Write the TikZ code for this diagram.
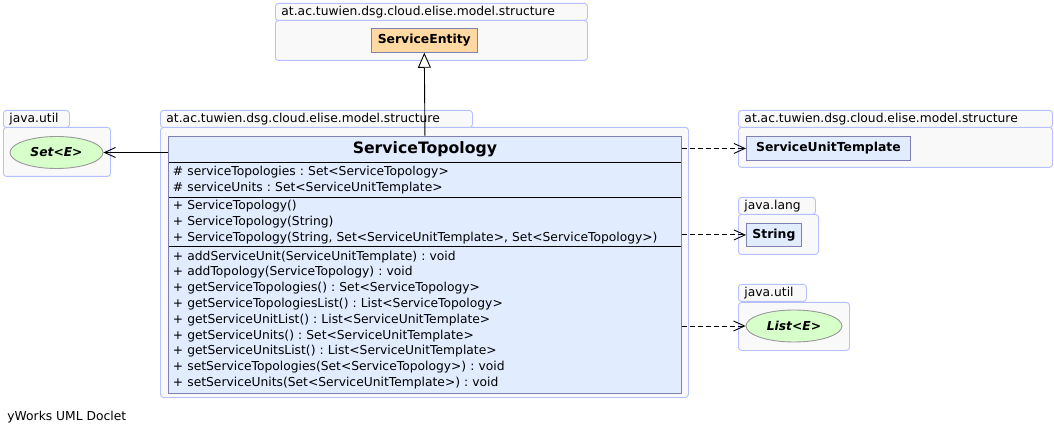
\documentclass[tikz,border=0pt]{standalone}
\usepackage{fontspec}
\setmainfont{DejaVu Sans}
\usetikzlibrary{shapes.geometric,arrows.meta,positioning}
\frenchspacing
\definecolor{pkb}{HTML}{B4C0FF}
\definecolor{pkf}{HTML}{F9F9F9}
\definecolor{clb}{HTML}{8080B4}
\definecolor{clf}{HTML}{E1ECFF}
\definecolor{orf}{HTML}{FFD9A1}
\definecolor{grf}{HTML}{D6FFC9}
\colorlet{elb}{black!40}
\tikzset{
    pkgbody/.style={draw=pkb,fill=pkf,rounded corners=3pt,anchor=north west,inner sep=0pt},
    pkgtab/.style={draw=pkb,fill=pkf,rounded corners=3pt,anchor=north west,inner xsep=6pt,inner ysep=0pt,
        minimum height=17pt,align=left,font=\fontsize{12.3}{14}\selectfont},
    clsbox/.style={draw=clb,fill=clf,inner sep=0pt,font=\fontsize{12.4}{14}\bfseries\selectfont},
    membox/.style={fill=clf,inner xsep=4.5pt,inner ysep=0pt,text width=504pt,align=left,
        font=\fontsize{12.3}{15.8}\selectfont},
    ifcel/.style={ellipse,draw=elb,fill=grf,inner sep=0pt,minimum height=32pt,
        font=\fontsize{12.3}{14}\bfseries\itshape\selectfont},
    assoc/.style={-{Straight Barb[length=11pt,width=10pt]}},
    dep/.style={dash pattern=on 5pt off 3pt,-{Straight Barb[length=11pt,width=10pt]}},
    gen/.style={-{Triangle[open,length=15pt,width=13pt,fill=white]}}
}

\begin{document}
\begin{tikzpicture}[x=1pt,y=-1pt,line width=0.9pt]
    \useasboundingbox (0,0) rectangle (1054,435);
    % packages
    \node [pkgbody,minimum width=312pt,minimum height=40pt] (pkgtopb) at (275,20) {};
    \node [pkgtab,text width=300pt] (pkgtopt) at (275,3) {at.ac.tuwien.dsg.cloud.elise.model.structure};
    \node [pkgbody,minimum width=107pt,minimum height=49pt] (pkgsetb) at (3,127) {};
    \node [pkgtab,text width=54pt] (pkgsett) at (3,110) {java.util};
    \node [pkgbody,minimum width=528pt,minimum height=270pt] (pkgmidb) at (160,127) {};
    \node [pkgtab,text width=300pt] (pkgmidt) at (160,110) {at.ac.tuwien.dsg.cloud.elise.model.structure};
    \node [pkgbody,minimum width=314pt,minimum height=40pt] (pkgsutb) at (738,127) {};
    \node [pkgtab,text width=302pt] (pkgsutt) at (738,110) {at.ac.tuwien.dsg.cloud.elise.model.structure};
    \node [pkgbody,minimum width=80pt,minimum height=40pt] (pkgstrb) at (738,214) {};
    \node [pkgtab,text width=65pt] (pkgstrt) at (738,197) {java.lang};
    \node [pkgbody,minimum width=111pt,minimum height=48pt] (pkglstb) at (738,302) {};
    \node [pkgtab,text width=56pt] (pkglstt) at (738,284) {java.util};
    % types
    \node [clsbox,fill=orf,minimum width=106pt,minimum height=24pt] (entity) at (424.3,40.3) {ServiceEntity};
    \node [clsbox,anchor=north west,minimum width=164pt,minimum height=24pt] (sut) at (746,136) {ServiceUnitTemplate};
    \node [clsbox,anchor=north west,minimum width=55pt,minimum height=23pt] (string) at (746,223) {String};
    \node [ifcel,minimum width=93pt] (setel) at (56.5,152.5) {Set<E>};
    \node [ifcel,minimum width=96pt] (listel) at (794,326) {List<E>};
    % class
    \node [clsbox,draw=none,anchor=north west,minimum width=513pt,minimum height=25.5pt,
        font=\fontsize{15.7}{18}\bfseries\selectfont] (sttitle) at (168,136) {ServiceTopology};
    \node [membox,below=0pt of sttitle,minimum height=33.8pt] (stfields) {%
        \# serviceTopologies : Set<ServiceTopology>\\
        \# serviceUnits : Set<ServiceUnitTemplate>};
    \node [membox,below=0pt of stfields,minimum height=48.7pt] (stctors) {%
        + ServiceTopology()\\
        + ServiceTopology(String)\\
        + ServiceTopology(String, Set<ServiceUnitTemplate>, Set<ServiceTopology>)};
    \node [membox,below=0pt of stctors,minimum height=145.5pt] (stmethods) {%
        + addServiceUnit(ServiceUnitTemplate) : void\\
        + addTopology(ServiceTopology) : void\\
        + getServiceTopologies() : Set<ServiceTopology>\\
        + getServiceTopologiesList() : List<ServiceTopology>\\
        + getServiceUnitList() : List<ServiceUnitTemplate>\\
        + getServiceUnits() : Set<ServiceUnitTemplate>\\
        + getServiceUnitsList() : List<ServiceUnitTemplate>\\
        + setServiceTopologies(Set<ServiceTopology>) : void\\
        + setServiceUnits(Set<ServiceUnitTemplate>) : void};
    \foreach \sec in {stfields,stctors,stmethods} {
        \draw (\sec.north west) -- (\sec.north east);
    }
    \draw [clb] (sttitle.north west) rectangle (stmethods.south east);
    % relations
    \draw [gen] (sttitle.north) -- (entity.south);
    \draw [assoc] (setel.east -| sttitle.west) -- (setel.east);
    \draw [dep] (sut.west -| sttitle.east) -- (sut.west);
    \draw [dep] (string.west -| sttitle.east) -- (string.west);
    \draw [dep] (listel.west -| sttitle.east) -- (listel.west);
    \node [anchor=west,inner sep=2pt,font=\fontsize{12.3}{14}\selectfont] (doclet) at (5,417.5) {yWorks UML Doclet};
\end{tikzpicture}
\end{document}
